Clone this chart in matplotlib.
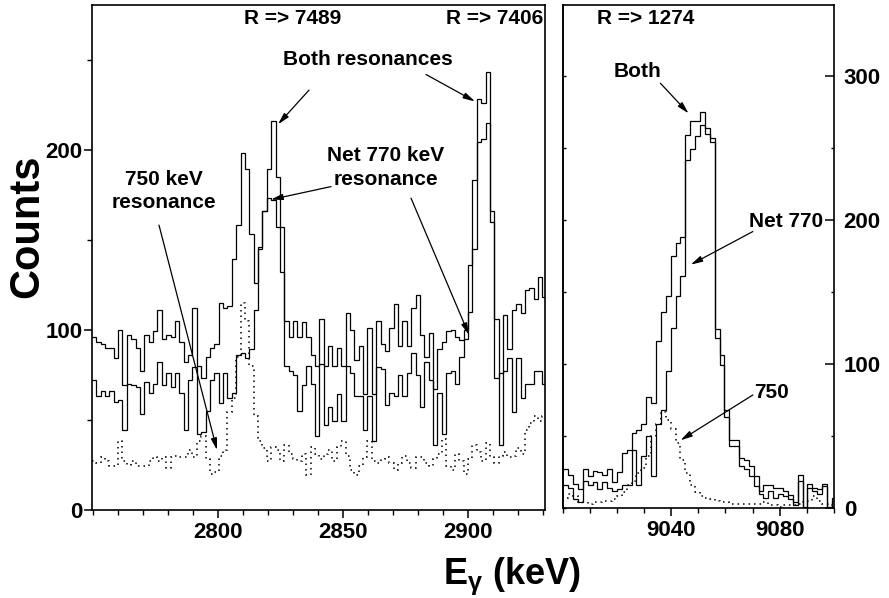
import numpy as np
import matplotlib
matplotlib.use("Agg")
import matplotlib.pyplot as plt
from matplotlib.ticker import FixedLocator, MultipleLocator, NullFormatter

plt.rcParams["font.family"] = ["Liberation Sans", "DejaVu Sans"]
plt.rcParams["font.weight"] = "bold"
plt.rcParams["mathtext.fontset"] = "custom"
plt.rcParams["mathtext.rm"] = "Liberation Sans"
plt.rcParams["mathtext.it"] = "Liberation Sans:italic"

# left panel: 2750-2930 keV, bins of 1.75 keV
left_start = 2749.5
left_width = 1.75
left_both = [96, 93, 92, 90, 90, 84, 100, 69, 97, 95, 90, 77, 97, 93, 99, 111, 95, 97, 96, 105,
             93, 82, 86, 112, 80, 73, 85, 90, 92, 115, 112, 113, 139, 158, 198, 189, 153, 126, 146, 166,
             189, 216, 185, 157, 105, 96, 105, 96, 104, 96, 86, 80, 106, 80, 91, 80, 90, 80, 109, 100,
             83, 91, 64, 101, 64, 105, 92, 88, 101, 114, 91, 105, 91, 112, 119, 97, 85, 98, 67, 89,
             93, 99, 100, 96, 94, 100, 136, 183, 228, 226, 243, 166, 106, 36, 108, 89, 111, 114, 109, 122,
             123, 117, 129, 118]
left_net770 = [72, 63, 66, 63, 66, 60, 61, 44, 70, 69, 68, 53, 71, 65, 70, 82, 69, 76, 68, 76,
               65, 44, 72, 79, 42, 43, 55, 72, 76, 59, 76, 62, 65, 86, 87, 84, 89, 111, 145, 166,
               173, 172, 157, 132, 80, 77, 75, 55, 69, 80, 70, 41, 81, 47, 57, 49, 64, 49, 80, 76,
               63, 63, 44, 63, 38, 79, 78, 58, 65, 63, 75, 63, 76, 87, 75, 57, 82, 72, 36, 65,
               42, 76, 77, 70, 85, 95, 110, 145, 204, 206, 215, 160, 73, 76, 77, 84, 54, 84, 62, 70,
               70, 77, 77, 70]
left_750 = [27, 26, 29, 27, 24, 24, 38, 27, 25, 27, 24, 24, 24, 27, 29, 27, 29, 23, 29, 30,
            29, 29, 33, 29, 38, 41, 28, 20, 21, 30, 33, 54, 62, 85, 115, 105, 80, 52, 38, 34,
            27, 35, 33, 27, 36, 31, 28, 27, 31, 19, 35, 31, 28, 31, 33, 27, 35, 38, 30, 22,
            19, 24, 29, 38, 27, 26, 28, 29, 26, 22, 26, 30, 26, 23, 29, 29, 26, 24, 28, 31,
            39, 24, 22, 31, 27, 20, 28, 36, 32, 27, 37, 29, 26, 30, 32, 29, 30, 34, 31, 44,
            48, 52, 49, 52]

# right panel: 9000-9100 keV, bins of 1.8 keV
right_start = 8998.4
right_width = 1.8
right_both = [26, 27, 23, 17, 13, 27, 22, 26, 25, 23, 27, 18, 25, 38, 40, 52, 54, 58, 77, 73,
              116, 136, 147, 175, 184, 188, 259, 269, 269, 275, 264, 257, 124, 106, 68, 47, 47, 35, 33, 29,
              22, 12, 16, 16, 14, 14, 12, 9, 4, 23, 1, 17, 14, 13, 17, 1, 7]
right_net770 = [16, 16, 14, 6, 4, 19, 16, 18, 13, 18, 14, 12, 13, 16, 16, 40, 16, 36, 50, 22,
                58, 68, 95, 125, 147, 161, 242, 249, 258, 266, 260, 254, 118, 99, 63, 43, 43, 29, 27, 22,
                15, 10, 7, 12, 7, 10, 8, 6, 2, 19, 0, 14, 12, 10, 15, 0, 5]
right_750 = [8, 7, 10, 8, 4, 4, 3, 4, 4, 5, 5, 6, 8, 11, 16, 19, 24, 28, 36, 50,
             58, 67, 61, 55, 45, 33, 24, 16, 11, 8, 7, 6, 5, 4, 4, 3, 3, 3, 3, 3,
             3, 3, 4, 2, 2, 1, 2, 2, 2, 3, 4, 5, 8, 5, 3, 3, 2]

W, H = 889, 598
fig = plt.figure(figsize=(W / 100, H / 100), dpi=100)
ax1 = fig.add_axes([92 / W, 1 - 509.5 / H, (545 - 92) / W, (509.5 - 5) / H])
ax2 = fig.add_axes([562.7 / W, 1 - 508 / H, (834 - 562.7) / W, (508 - 5) / H])

dotted = (0, (1, 2.6))


def edges(start, width, n):
    return start + width * np.arange(n + 1)


e1 = edges(left_start, left_width, len(left_both))
ax1.stairs(left_both, e1, baseline=None, color="black", lw=0.9)
ax1.stairs(left_net770, e1, baseline=None, color="black", lw=0.9)
ax1.stairs(left_750, e1, baseline=None, color="black", lw=1.1, linestyle=dotted)

e2 = edges(right_start, right_width, len(right_both))
ax2.stairs(right_both, e2, baseline=None, color="black", lw=0.9)
ax2.stairs(right_net770, e2, baseline=None, color="black", lw=0.9)
ax2.stairs(right_750, e2, baseline=None, color="black", lw=1.1, linestyle=dotted)

ax1.set_xlim(2749.6, 2930.8)
ax1.set_ylim(0, 280.3)
ax2.set_xlim(9000, 9100)
ax2.set_ylim(0, 349.3)

for ax in (ax1, ax2):
    for s in ax.spines.values():
        s.set_linewidth(1.2)

tick_font = dict(labelsize=16)
ax1.xaxis.set_major_locator(FixedLocator([2800, 2850, 2900]))
ax1.xaxis.set_minor_locator(MultipleLocator(10))
ax1.yaxis.set_major_locator(MultipleLocator(100))
ax1.yaxis.set_minor_locator(MultipleLocator(50))
ax1.tick_params(which="major", direction="out", length=5.5, width=1.1, pad=3, **tick_font)
ax1.tick_params(which="minor", direction="out", length=3.5, width=1.0)
ax1.tick_params(axis="x", which="major", length=6)
ax1.tick_params(axis="y", which="major", pad=1.5)

ax2.xaxis.set_major_locator(FixedLocator([9040, 9080]))
ax2.xaxis.set_minor_locator(MultipleLocator(10))
ax2.yaxis.set_major_locator(MultipleLocator(100))
ax2.yaxis.set_minor_locator(MultipleLocator(50))
ax2.yaxis.tick_right()
ax2.tick_params(axis="x", which="major", direction="out", length=6, width=1.1, pad=3, **tick_font)
ax2.tick_params(axis="x", which="minor", direction="out", length=3.5, width=1.0)
ax2.tick_params(axis="y", which="major", direction="in", length=6.5, width=1.1, pad=7, **tick_font)
ax2.tick_params(axis="y", which="minor", direction="in", length=2, width=1.0)
sec = ax2.secondary_yaxis("left")
sec.yaxis.set_major_locator(MultipleLocator(50))
sec.yaxis.set_major_formatter(NullFormatter())
sec.tick_params(direction="in", length=2, width=1.0)
sec.spines["left"].set_linewidth(1.2)

for ax in (ax1, ax2):
    for lab in ax.get_xticklabels() + ax.get_yticklabels():
        lab.set_fontweight("bold")

txt = dict(fontsize=15, fontweight="bold", ha="center", va="center")
arrow = dict(arrowstyle="-|>,head_length=0.7,head_width=0.18", color="black", lw=0.9,
             shrinkA=0, shrinkB=0)

ax1.text(2830, 273, "R => 7489", **txt)
ax1.text(2930, 273, "R => 7406", fontsize=15, fontweight="bold", ha="right", va="center")
ax1.text(2860, 250, "Both resonances", **txt)
ax1.annotate("", xy=(2824, 214), xytext=(2836.4, 233), arrowprops=arrow)
ax1.annotate("", xy=(2902.8, 226.7), xytext=(2883.2, 241.7), arrowprops=arrow)
ax1.text(2867.2, 190, "Net 770 keV\nresonance", linespacing=1.3, **txt)
ax1.annotate("", xy=(2821.2, 172.2), xytext=(2845.2, 179.4), arrowprops=arrow)
ax1.annotate("", xy=(2900.4, 97), xytext=(2877.2, 173), arrowprops=arrow)
ax1.text(2778.4, 177, "750 keV\nresonance", linespacing=1.3, **txt)
ax1.annotate("", xy=(2799.6, 33), xytext=(2776.4, 158), arrowprops=arrow)

ax2.text(9030.5, 340, "R => 1274", **txt)
ax2.text(9027.5, 303, "Both", **txt)
ax2.annotate("", xy=(9046.4, 274), xytext=(9036, 295), arrowprops=arrow)
ax2.text(9082.3, 199, "Net 770", **txt)
ax2.annotate("", xy=(9047.2, 169), xytext=(9070.1, 192), arrowprops=arrow)
ax2.text(9076.8, 80.5, "750", **txt)
ax2.annotate("", xy=(9043.4, 47), xytext=(9070.1, 78.5), arrowprops=arrow)

fig.text(27 / W, 1 - 226 / H, "Counts", rotation=90, fontsize=30, fontweight="bold",
         ha="center", va="center")
fig.text(512 / W, 1 - 584 / H, r"E$_{\mathrm{γ}}$ (keV)", fontsize=26, fontweight="bold",
         ha="center", va="baseline")

fig.savefig("out.png", dpi=100)
